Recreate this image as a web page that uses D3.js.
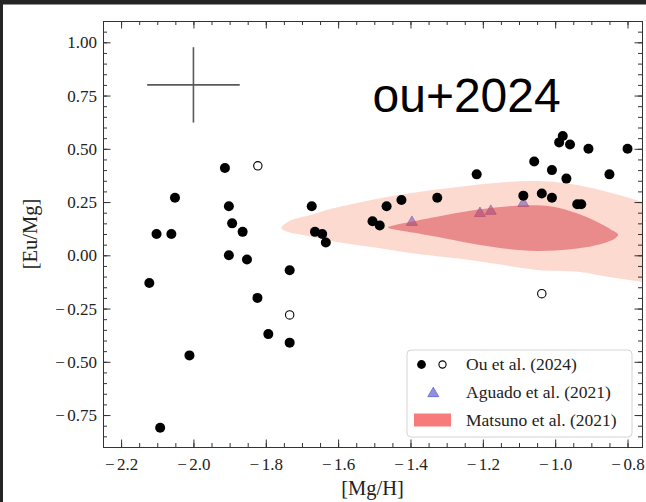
<!DOCTYPE html>
<html>
<head>
<meta charset="utf-8">
<script src="https://cdn.jsdelivr.net/npm/d3@7"></script>
<style>
  html, body { margin: 0; padding: 0; background: #fff; }
  svg { display: block; }
</style>
</head>
<body>
<svg id="chart" width="646" height="502"></svg>
<script>
// ---- Ou et al. (2024): filled symbols ----
const ouMgH = [-1.913, -2.051, -1.902, -1.893, -1.864, -2.102, -2.061, -1.673, -1.664, -1.644,
               -1.634, -1.902, -1.852, -2.122, -1.734, -1.823, -1.793, -1.734, -2.011, -2.092,
               -1.505, -1.485, -1.466, -1.425, -1.326, -1.217, -1.088, -1.058, -1.037, -1.009,
               -1.009, -0.989, -0.979, -0.959, -0.969, -0.908, -0.939, -0.928, -0.850, -0.800];
const ouEuMg = [0.41, 0.27, 0.23, 0.15, 0.11, 0.10, 0.10, 0.23, 0.11, 0.10,
                0.06, 0.00, -0.02, -0.13, -0.07, -0.20, -0.37, -0.41, -0.47, -0.81,
                0.16, 0.14, 0.23, 0.26, 0.27, 0.38, 0.28, 0.44, 0.29, 0.40,
                0.27, 0.53, 0.56, 0.52, 0.36, 0.50, 0.24, 0.24, 0.38, 0.50];

// ---- Ou et al. (2024): open symbols ----
const ouOpenMgH = [-1.822, -1.734, -1.037];
const ouOpenEuMg = [0.42, -0.28, -0.18];

// ---- Aguado et al. (2021) ----
const aguadoMgH = [-1.396, -1.208, -1.178, -1.088];
const aguadoEuMg = [0.155, 0.197, 0.207, 0.244];

// ---- Matsuno et al. (2021) density contours, [Mg/H, Eu/Mg] boundary points ----
const matsunoOuter = [
  [-1.757, 0.128], [-1.745, 0.150], [-1.725, 0.168], [-1.696, 0.181], [-1.604, 0.225],
  [-1.512, 0.259], [-1.420, 0.287], [-1.327, 0.309], [-1.235, 0.328], [-1.143, 0.343],
  [-1.069, 0.349], [-1.005, 0.345], [-0.913, 0.321], [-0.821, 0.282], [-0.760, 0.251],
  [-0.700, 0.220], [-0.660, 0.050], [-0.700, -0.135], [-0.760, -0.124], [-0.867, -0.097],
  [-0.931, -0.078], [-1.051, -0.069], [-1.143, -0.046], [-1.235, -0.022], [-1.327, -0.004],
  [-1.420, 0.016], [-1.512, 0.040], [-1.604, 0.063], [-1.696, 0.095], [-1.740, 0.110]
];
const matsunoInner = [
  [-1.462, 0.131], [-1.445, 0.141], [-1.420, 0.150], [-1.327, 0.181], [-1.235, 0.209],
  [-1.143, 0.228], [-1.069, 0.235], [-1.005, 0.228], [-0.940, 0.197], [-0.885, 0.157],
  [-0.845, 0.120], [-0.826, 0.097], [-0.836, 0.078], [-0.885, 0.048], [-0.959, 0.028],
  [-1.051, 0.020], [-1.143, 0.032], [-1.235, 0.056], [-1.327, 0.087], [-1.420, 0.114],
  [-1.447, 0.122]
];

// ---- typical uncertainty cross ----
const errCenter = [-2.0, 0.80];
const errHalf = [0.128, 0.177];

// ---- ticks ----
const xTicks = [-2.2, -2.0, -1.8, -1.6, -1.4, -1.2, -1.0, -0.8];
const yTicks = [-0.75, -0.50, -0.25, 0.00, 0.25, 0.50, 0.75, 1.00];
const xMinorStep = 0.05;
const yMinorStep = 0.05;

const legendLabels = ["Ou et al. (2024)", "Aguado et al. (2021)", "Matsuno et al. (2021)"];
const stamp = "ou+2024";

// ---------------------------------------------------------------
const svg = d3.select("#chart");
const W = 646, H = 502;
const plot = { left: 103, right: 642, top: 21, bottom: 447 };
const serif = "'Liberation Serif', 'Times New Roman', serif";

svg.append("rect").attr("width", W).attr("height", H).attr("fill", "#fff");

const x = d3.scaleLinear().domain([-2.25, -0.76]).range([plot.left, plot.right]);
const y = d3.scaleLinear().domain([-0.90, 1.10]).range([plot.bottom, plot.top]);

svg.append("defs").append("clipPath").attr("id", "plotClip")
  .append("rect")
  .attr("x", plot.left).attr("y", plot.top)
  .attr("width", plot.right - plot.left).attr("height", plot.bottom - plot.top);

const area = svg.append("g").attr("clip-path", "url(#plotClip)");

const contour = d3.line()
  .x(d => x(d[0])).y(d => y(d[1]))
  .curve(d3.curveCatmullRomClosed.alpha(0.5));

// Aguado triangles, drawn first so the translucent densities tint them
const tri = d3.symbol().type(d3.symbolTriangle).size(52);
area.append("g").selectAll("path")
  .data(aguadoMgH.map((m, i) => [m, aguadoEuMg[i]]))
  .join("path")
  .attr("d", tri)
  .attr("transform", d => `translate(${x(d[0])},${y(d[1])})`)
  .attr("fill", "rgb(70,70,200)").attr("fill-opacity", 0.6)
  .attr("stroke", "rgb(70,70,200)").attr("stroke-opacity", 0.6).attr("stroke-width", 1);

// outer density level
area.append("path").attr("d", contour(matsunoOuter))
  .attr("fill", "rgb(245,140,110)").attr("fill-opacity", 0.32);

// inner density level
area.append("path").attr("d", contour(matsunoInner))
  .attr("fill", "rgb(215,60,70)").attr("fill-opacity", 0.5);

// uncertainty cross
const cross = area.append("g").attr("stroke", "#5a5a5a").attr("stroke-width", 1.6);
cross.append("line")
  .attr("x1", x(errCenter[0] - errHalf[0])).attr("x2", x(errCenter[0] + errHalf[0]))
  .attr("y1", y(errCenter[1])).attr("y2", y(errCenter[1]));
cross.append("line")
  .attr("x1", x(errCenter[0])).attr("x2", x(errCenter[0]))
  .attr("y1", y(errCenter[1] - errHalf[1])).attr("y2", y(errCenter[1] + errHalf[1]));

// Ou et al. stars
area.append("g").selectAll("circle")
  .data(ouMgH.map((m, i) => [m, ouEuMg[i]]))
  .join("circle")
  .attr("cx", d => x(d[0])).attr("cy", d => y(d[1]))
  .attr("r", 5).attr("fill", "#000");

area.append("g").selectAll("circle")
  .data(ouOpenMgH.map((m, i) => [m, ouOpenEuMg[i]]))
  .join("circle")
  .attr("cx", d => x(d[0])).attr("cy", d => y(d[1]))
  .attr("r", 4.2).attr("fill", "none").attr("stroke", "#000").attr("stroke-width", 1.1);

// ---- axes: inward ticks on all four sides ----
const minorX = d3.range(-2.25, -0.755, xMinorStep).map(v => +v.toFixed(2));
const minorY = d3.range(-0.90, 1.1001, yMinorStep).map(v => +v.toFixed(2));
const tickColor = "#333";

function styleAxis(g) {
  g.select(".domain").remove();
  g.selectAll("line").attr("stroke", tickColor).attr("stroke-width", 1);
  g.attr("font-family", serif).attr("font-size", 17);
  g.selectAll("text").attr("fill", "#222");
}

// give the minus sign a little more room, like a math minus
function widenMinus(g) {
  g.selectAll("text").each(function () {
    const t = d3.select(this);
    const s = t.text();
    if (s.startsWith("\u2212")) {
      t.text(null);
      t.append("tspan").text("\u2212");
      t.append("tspan").attr("dx", 2.5).text(s.slice(1));
    }
  });
}

svg.append("g").attr("transform", `translate(0,${plot.bottom})`)
  .call(d3.axisBottom(x).tickValues(minorX).tickSize(-4).tickFormat(""))
  .call(styleAxis);
svg.append("g").attr("transform", `translate(0,${plot.bottom})`)
  .call(d3.axisBottom(x).tickValues(xTicks).tickSize(-7.5).tickPadding(11).tickFormat(d3.format(".1f")))
  .call(styleAxis).call(widenMinus);
svg.append("g").attr("transform", `translate(0,${plot.top})`)
  .call(d3.axisTop(x).tickValues(minorX).tickSize(-4).tickFormat(""))
  .call(styleAxis);
svg.append("g").attr("transform", `translate(0,${plot.top})`)
  .call(d3.axisTop(x).tickValues(xTicks).tickSize(-7.5).tickFormat(""))
  .call(styleAxis);

svg.append("g").attr("transform", `translate(${plot.left},0)`)
  .call(d3.axisLeft(y).tickValues(minorY).tickSize(-4).tickFormat(""))
  .call(styleAxis);
svg.append("g").attr("transform", `translate(${plot.left},0)`)
  .call(d3.axisLeft(y).tickValues(yTicks).tickSize(-7.5).tickPadding(6).tickFormat(d3.format(".2f")))
  .call(styleAxis).call(widenMinus);
svg.append("g").attr("transform", `translate(${plot.right},0)`)
  .call(d3.axisRight(y).tickValues(minorY).tickSize(-4).tickFormat(""))
  .call(styleAxis);
svg.append("g").attr("transform", `translate(${plot.right},0)`)
  .call(d3.axisRight(y).tickValues(yTicks).tickSize(-7.5).tickFormat(""))
  .call(styleAxis);

svg.append("rect")
  .attr("x", plot.left + 0.5).attr("y", plot.top + 0.5)
  .attr("width", plot.right - plot.left).attr("height", plot.bottom - plot.top)
  .attr("fill", "none").attr("stroke", tickColor).attr("stroke-width", 1);

// axis titles
svg.append("text")
  .attr("x", (plot.left + plot.right) / 2).attr("y", 495)
  .attr("text-anchor", "middle")
  .attr("font-family", serif).attr("font-size", 20.5).attr("fill", "#222")
  .text("[Mg/H]");
svg.append("text")
  .attr("transform", `translate(37,${(plot.top + plot.bottom) / 2}) rotate(-90)`)
  .attr("text-anchor", "middle")
  .attr("font-family", serif).attr("font-size", 20.5).attr("fill", "#222")
  .text("[Eu/Mg]");

// stamp
svg.append("text")
  .attr("x", 372.5).attr("y", 111.5)
  .attr("font-family", "'Liberation Sans', Arial, Helvetica, sans-serif")
  .attr("font-size", 48).attr("fill", "#000")
  .text(stamp);

// ---- legend ----
const lg = svg.append("g");
lg.append("rect")
  .attr("x", 407).attr("y", 350).attr("width", 225).attr("height", 87).attr("rx", 4)
  .attr("fill", "#fff").attr("fill-opacity", 0.8)
  .attr("stroke", "#d4d4d4").attr("stroke-width", 1);

lg.append("circle").attr("cx", 421.5).attr("cy", 364.5).attr("r", 4.4).attr("fill", "#000");
lg.append("circle").attr("cx", 442.5).attr("cy", 364.5).attr("r", 3.6)
  .attr("fill", "none").attr("stroke", "#000").attr("stroke-width", 1.1);

lg.append("path").attr("d", tri)
  .attr("transform", "translate(433.3,393.5)")
  .attr("fill", "rgb(70,70,200)").attr("fill-opacity", 0.6)
  .attr("stroke", "rgb(70,70,200)").attr("stroke-opacity", 0.6).attr("stroke-width", 1);

lg.append("rect").attr("x", 414).attr("y", 413.5).attr("width", 37).attr("height", 13)
  .attr("fill", "#f77b7b");

lg.selectAll("text.lab").data(legendLabels).join("text")
  .attr("class", "lab")
  .attr("x", 466).attr("y", (d, i) => [370, 398, 425.7][i])
  .attr("font-family", serif).attr("font-size", 17.5).attr("fill", "#222")
  .text(d => d);

// dark window edge along the top and left
svg.append("rect").attr("x", 0).attr("y", 0).attr("width", W).attr("height", 4.5).attr("fill", "#242424");
svg.append("rect").attr("x", 0).attr("y", 0).attr("width", 3).attr("height", H).attr("fill", "#242424");
</script>
</body>
</html>
